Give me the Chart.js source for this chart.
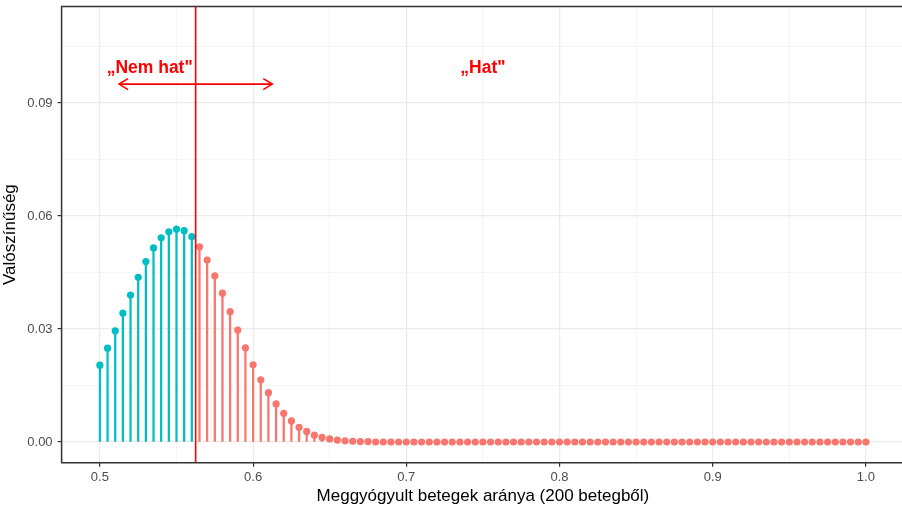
<!DOCTYPE html>
<html>
<head>
<meta charset="utf-8">
<script src="https://cdn.jsdelivr.net/npm/chart.js@4"></script>
<style>
html,body{margin:0;padding:0;background:#fff;overflow:hidden;}
#wrap{width:902px;height:506px;position:relative;overflow:hidden;}
canvas{display:block;}
</style>
</head>
<body>
<div id="wrap"><canvas id="c" width="905" height="506" style="width:905px;height:506px;"></canvas></div>
<script>
// Proportion of cured patients (out of 200)
const proportions = [
0.500,0.505,0.510,0.515,0.520,0.525,0.530,0.535,0.540,0.545,
0.550,0.555,0.560,0.565,0.570,0.575,0.580,0.585,0.590,0.595,
0.600,0.605,0.610,0.615,0.620,0.625,0.630,0.635,0.640,0.645,
0.650,0.655,0.660,0.665,0.670,0.675,0.680,0.685,0.690,0.695,
0.700,0.705,0.710,0.715,0.720,0.725,0.730,0.735,0.740,0.745,
0.750,0.755,0.760,0.765,0.770,0.775,0.780,0.785,0.790,0.795,
0.800,0.805,0.810,0.815,0.820,0.825,0.830,0.835,0.840,0.845,
0.850,0.855,0.860,0.865,0.870,0.875,0.880,0.885,0.890,0.895,
0.900,0.905,0.910,0.915,0.920,0.925,0.930,0.935,0.940,0.945,
0.950,0.955,0.960,0.965,0.970,0.975,0.980,0.985,0.990,0.995,
1.000];
// Probability values
const probabilities = [
0.0204,0.0249,0.0295,0.0342,0.0390,0.0437,0.0479,0.0515,0.0542,0.0558,
0.0565,0.0561,0.0545,0.0518,0.0483,0.0441,0.0395,0.0346,0.0297,0.0250,
0.0205,0.0165,0.0131,0.0101,0.0076,0.0056,0.0039,0.0028,0.0018,0.0012,
0.0008,0.0005,0.0003,0.0002,0.0001,0.0001,0,0,0,0,
0,0,0,0,0,0,0,0,0,0,
0,0,0,0,0,0,0,0,0,0,
0,0,0,0,0,0,0,0,0,0,
0,0,0,0,0,0,0,0,0,0,
0,0,0,0,0,0,0,0,0,0,
0,0,0,0,0,0,0,0,0,0,
0];
const cutoff = 0.5625;
const xMajorTicks = [0.5,0.6,0.7,0.8,0.9,1.0];
const xMinorTicks = [0.55,0.65,0.75,0.85,0.95];
const yMajorTicks = [0.00,0.03,0.06,0.09];
const yMinorTicks = [0.015,0.045,0.075,0.105];
const arrowRange = [0.5125,0.6125];
const arrowY = 0.095;
const labels = [
  {text:'\u201ENem hat"', x:0.5325, y:0.0993},
  {text:'\u201EHat"', x:0.75, y:0.0993}
];
const xTitle = 'Meggyógyult betegek aránya (200 betegből)';
const yTitle = 'Valószínűség';

const TEAL = '#00BFC4', RED = '#F8766D', LINE_RED = '#FF0000';
const pts = proportions.map((x,i)=>({x:x, y:probabilities[i]}));
const colorFor = ctx => (ctx.raw && ctx.raw.x < cutoff) ? TEAL : RED;
const isMajor = (v, arr) => arr.some(t => Math.abs(t - v) < 1e-9);
const zeroPad = s => { s.paddingTop = 0; s.paddingBottom = 0; s.paddingLeft = 0; s.paddingRight = 0; };

const overlay = {
  id:'overlay',
  afterDatasetsDraw(chart){
    const {ctx, chartArea:a, scales:{x,y}} = chart;
    ctx.save();
    // arrow
    const ay = y.getPixelForValue(arrowY);
    const x1 = x.getPixelForValue(arrowRange[0]);
    const x2 = x.getPixelForValue(arrowRange[1]);
    ctx.strokeStyle = LINE_RED; ctx.lineWidth = 1.6; ctx.lineCap='butt'; ctx.lineJoin='miter';
    ctx.beginPath(); ctx.moveTo(x1,ay); ctx.lineTo(x2,ay); ctx.stroke();
    const L=9, H=5.5;
    ctx.beginPath(); ctx.moveTo(x1+L,ay-H); ctx.lineTo(x1,ay); ctx.lineTo(x1+L,ay+H); ctx.stroke();
    ctx.beginPath(); ctx.moveTo(x2-L,ay-H); ctx.lineTo(x2,ay); ctx.lineTo(x2-L,ay+H); ctx.stroke();
    // labels
    ctx.fillStyle = LINE_RED;
    ctx.font = 'bold 17.5px "Liberation Sans", Arial, sans-serif';
    ctx.textAlign='center'; ctx.textBaseline='middle';
    labels.forEach(l => ctx.fillText(l.text, x.getPixelForValue(l.x), y.getPixelForValue(l.y)));
    // panel border (left, top, bottom; right side lies outside the window)
    ctx.strokeStyle = '#333333'; ctx.lineWidth = 1.5;
    ctx.beginPath();
    ctx.moveTo(a.right + 5, a.top); ctx.lineTo(a.left, a.top);
    ctx.lineTo(a.left, a.bottom); ctx.lineTo(a.right + 5, a.bottom);
    ctx.stroke();
    // axis titles
    ctx.fillStyle = '#000';
    ctx.font = '17px "Liberation Sans", Arial, sans-serif';
    ctx.textAlign='center'; ctx.textBaseline='middle';
    ctx.fillText(xTitle, x.getPixelForValue(0.75), 496);
    ctx.translate(10, (a.top+a.bottom)/2);
    ctx.rotate(-Math.PI/2);
    ctx.fillText(yTitle, 0, 0);
    ctx.restore();
  }
};

new Chart(document.getElementById('c'), {
  type:'scatter',
  data:{
    datasets:[
      { type:'line', data:[{x:cutoff,y:-0.02},{x:cutoff,y:0.2}], borderColor:LINE_RED, borderWidth:1.6,
        pointRadius:0, fill:false, order:0 },
      { type:'scatter', data:pts, backgroundColor:colorFor, borderWidth:0, pointRadius:3.6,
        pointHoverRadius:3.6, order:1 },
      { type:'bar', data:pts, backgroundColor:colorFor, barThickness:1.6, borderWidth:0, order:2 }
    ]
  },
  plugins:[overlay],
  options:{
    responsive:false, maintainAspectRatio:false, animation:false, devicePixelRatio:1,
    layout:{autoPadding:false, padding:{top:6.5, right:0.8, left:0, bottom:0}},
    plugins:{legend:{display:false}, tooltip:{enabled:false}},
    scales:{
      x:{
        type:'linear', min:0.475, max:1.025, offset:false,
        afterBuildTicks: s => { s.ticks = xMajorTicks.concat(xMinorTicks).sort((a,b)=>a-b).map(v=>({value:v})); },
        afterFit: s => { s.height = 43.3; zeroPad(s); },
        grid:{
          offset:false, drawTicks:true, tickLength:4,
          color: c => isMajor(c.tick.value, xMajorTicks) ? '#EBEBEB' : '#F3F3F3',
          lineWidth: c => isMajor(c.tick.value, xMajorTicks) ? 1.2 : 0.8,
          tickColor: c => isMajor(c.tick.value, xMajorTicks) ? '#333333' : 'rgba(0,0,0,0)',
          tickWidth: 1.2
        },
        border:{display:false},
        ticks:{
          autoSkip:false, maxRotation:0, padding:3, color:'#4D4D4D',
          font:{family:'"Liberation Sans", Arial, sans-serif', size:13},
          callback: v => isMajor(v, xMajorTicks) ? v.toFixed(1) : ''
        }
      },
      y:{
        type:'linear', min:-0.0055, max:0.1156,
        afterBuildTicks: s => { s.ticks = yMajorTicks.concat(yMinorTicks).sort((a,b)=>a-b).map(v=>({value:v})); },
        afterFit: s => { s.width = 61.6; zeroPad(s); },
        grid:{
          drawTicks:true, tickLength:4,
          color: c => isMajor(c.tick.value, yMajorTicks) ? '#EBEBEB' : '#F3F3F3',
          lineWidth: c => isMajor(c.tick.value, yMajorTicks) ? 1.2 : 0.8,
          tickColor: c => isMajor(c.tick.value, yMajorTicks) ? '#333333' : 'rgba(0,0,0,0)',
          tickWidth: 1.2
        },
        border:{display:false},
        ticks:{
          autoSkip:false, padding:5, color:'#4D4D4D',
          font:{family:'"Liberation Sans", Arial, sans-serif', size:13},
          callback: v => isMajor(v, yMajorTicks) ? v.toFixed(2) : ''
        }
      }
    }
  }
});
</script>
</body>
</html>
